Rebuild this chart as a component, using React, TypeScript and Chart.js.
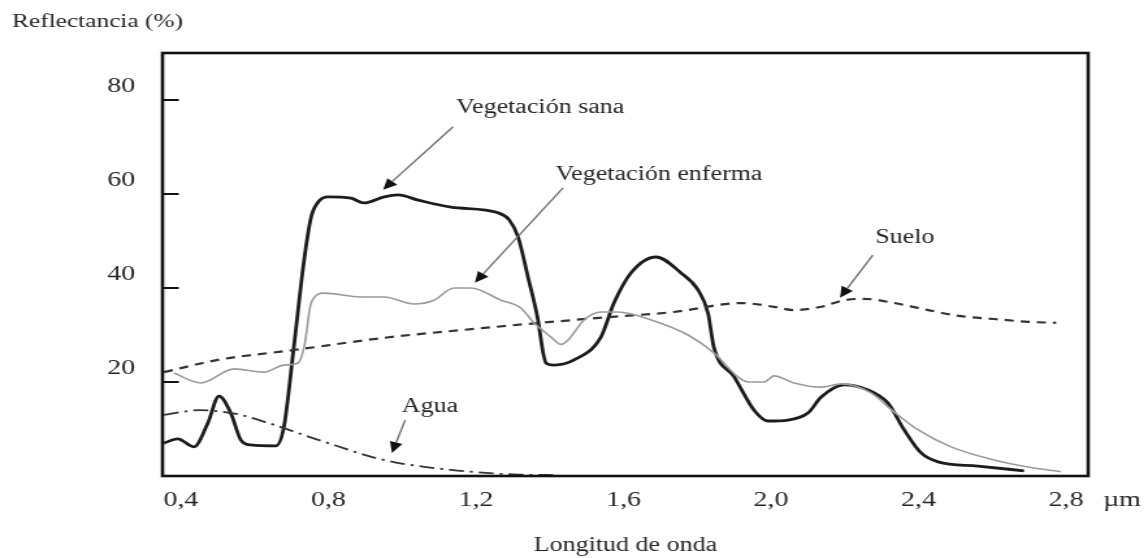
import React, { useEffect, useRef } from 'react';
import { Chart, registerables } from 'chart.js';

Chart.register(...registerables);

// ---- data (wavelength in µm, reflectance in %) ----
const sanaX = [0.354, 0.391, 0.435, 0.473, 0.503, 0.535, 0.562, 0.589, 0.657, 0.679, 0.706, 0.734, 0.753, 0.772, 0.799, 0.861, 0.896, 0.951, 0.989, 1.043, 1.132, 1.260, 1.290, 1.314, 1.341, 1.368, 1.382, 1.390, 1.412, 1.466, 1.539, 1.574, 1.620, 1.688, 1.756, 1.802, 1.829, 1.845, 1.900, 1.954, 1.992, 2.046, 2.100, 2.136, 2.198, 2.263, 2.317, 2.361, 2.407, 2.453, 2.561, 2.686];
const sanaY = [7.0, 7.9, 6.2, 11.3, 17.0, 13.4, 7.7, 6.6, 6.4, 10.4, 27.4, 46.0, 55.1, 58.3, 59.4, 59.1, 58.1, 59.4, 59.8, 58.7, 57.2, 56.0, 54.5, 50.9, 42.3, 33.2, 26.2, 24.0, 23.6, 24.7, 29.6, 36.8, 43.2, 46.6, 43.2, 39.6, 34.7, 27.4, 21.1, 14.0, 11.7, 11.9, 13.4, 16.8, 19.4, 18.3, 15.5, 9.8, 4.9, 3.0, 2.1, 1.1];

const enfermaX = [0.381, 0.454, 0.544, 0.625, 0.679, 0.717, 0.734, 0.753, 0.788, 0.888, 0.951, 1.032, 1.086, 1.140, 1.186, 1.268, 1.322, 1.357, 1.403, 1.430, 1.449, 1.493, 1.539, 1.585, 1.675, 1.775, 1.845, 1.910, 1.938, 1.981, 2.008, 2.062, 2.136, 2.190, 2.271, 2.334, 2.399, 2.488, 2.605, 2.697, 2.786];
const enfermaY = [21.9, 19.8, 22.8, 22.1, 23.6, 24.0, 27.4, 36.8, 38.9, 38.1, 38.1, 36.6, 37.4, 40.0, 40.0, 37.4, 35.7, 32.6, 29.6, 28.0, 28.9, 33.2, 34.9, 34.9, 33.2, 30.0, 26.2, 21.1, 20.0, 20.0, 21.3, 19.8, 18.9, 19.6, 17.7, 13.6, 9.8, 6.2, 3.4, 1.9, 0.9];

const sueloX = [0.354, 0.500, 0.706, 0.951, 1.222, 1.376, 1.558, 1.737, 1.919, 2.008, 2.062, 2.136, 2.198, 2.252, 2.334, 2.426, 2.515, 2.605, 2.697, 2.773];
const sueloY = [22.1, 24.7, 26.8, 29.4, 31.5, 32.6, 33.8, 34.9, 36.8, 36.0, 35.3, 36.0, 37.4, 37.7, 36.8, 35.3, 34.0, 33.4, 32.8, 32.6];

const aguaX = [0.354, 0.450, 0.550, 0.636, 0.772, 0.951, 1.132, 1.314, 1.420];
const aguaY = [13.0, 14.0, 13.2, 11.3, 7.7, 3.4, 1.3, 0.3, 0.2];

const xTicks = [0.4, 0.8, 1.2, 1.6, 2.0, 2.4, 2.8];
const yTicks = [20, 40, 60, 80];

// annotations (data coordinates)
const annLabels = ['Vegetación sana', 'Vegetación enferma', 'Suelo', 'Agua'];
const annTextAt = [[1.374, 78.3], [1.696, 64.0], [2.363, 50.6], [1.075, 14.7]];
const annArrowFrom = [[1.138, 74.3], [1.436, 61.3], [2.276, 47.0], [1.008, 11.9]];
const annArrowTo = [[0.948, 60.9], [1.197, 41.1], [2.187, 37.9], [0.972, 4.9]];

const FONT = '"Liberation Serif", "Times New Roman", serif';
const TEXT = '#262626';
const PAGE_W = 1148;
const PAGE_H = 558;
const STRETCH = 1.3; // the reference is horizontally stretched
const CANVAS_W = Math.round(PAGE_W / STRETCH);

const pts = (xs: number[], ys: number[]) => xs.map((x, i) => ({ x, y: ys[i] }));

function drawArrow(ctx: CanvasRenderingContext2D, x1: number, y1: number, x2: number, y2: number) {
  const ang = Math.atan2(y2 - y1, x2 - x1);
  const hl = 11;
  const hw = 5;
  const bx = x2 - hl * Math.cos(ang);
  const by = y2 - hl * Math.sin(ang);
  ctx.strokeStyle = '#6a6a6a';
  ctx.lineWidth = 1.3;
  ctx.setLineDash([]);
  ctx.beginPath();
  ctx.moveTo(x1, y1);
  ctx.lineTo(bx, by);
  ctx.stroke();
  ctx.fillStyle = '#111';
  ctx.beginPath();
  ctx.moveTo(x2, y2);
  ctx.lineTo(bx + hw * Math.sin(ang), by - hw * Math.cos(ang));
  ctx.lineTo(bx - hw * Math.sin(ang), by + hw * Math.cos(ang));
  ctx.closePath();
  ctx.fill();
}

const decorPlugin = {
  id: 'decor',
  afterDraw(chart: any) {
    const { ctx, chartArea: a, scales } = chart;
    const xs = scales.x;
    const ys = scales.y;
    ctx.save();
    ctx.setLineDash([]);
    // inner tick marks on y axis
    ctx.strokeStyle = '#111';
    ctx.lineWidth = 2;
    yTicks.forEach((v) => {
      const py = ys.getPixelForValue(v);
      ctx.beginPath();
      ctx.moveTo(a.left, py);
      ctx.lineTo(a.left + 12.5, py);
      ctx.stroke();
    });
    // frame
    ctx.lineWidth = 2.6;
    ctx.strokeStyle = '#111';
    ctx.strokeRect(a.left, a.top, a.right - a.left, a.bottom - a.top);
    // arrows
    annLabels.forEach((_, i) => {
      drawArrow(
        ctx,
        xs.getPixelForValue(annArrowFrom[i][0]),
        ys.getPixelForValue(annArrowFrom[i][1]),
        xs.getPixelForValue(annArrowTo[i][0]),
        ys.getPixelForValue(annArrowTo[i][1])
      );
    });
    // annotation texts
    ctx.fillStyle = TEXT;
    ctx.font = `20px ${FONT}`;
    ctx.textAlign = 'center';
    ctx.textBaseline = 'middle';
    annLabels.forEach((t, i) => {
      ctx.fillText(t, xs.getPixelForValue(annTextAt[i][0]), ys.getPixelForValue(annTextAt[i][1]));
    });
    // y title
    ctx.textAlign = 'left';
    ctx.font = `19.5px ${FONT}`;
    ctx.fillText('Reflectancia (%)', 12 / STRETCH, 22);
    // unit after last x tick
    ctx.font = `21.5px ${FONT}`;
    ctx.textAlign = 'center';
    ctx.fillText('µm', xs.getPixelForValue(xTicks[xTicks.length - 1]) + 43, a.bottom + 24);
    ctx.restore();
  },
};

export default function App() {
  const ref = useRef<HTMLCanvasElement>(null);

  useEffect(() => {
    if (!ref.current) return;
    const chart = new Chart(ref.current, {
      type: 'line',
      data: {
        datasets: [
          {
            label: 'Vegetación enferma',
            data: pts(enfermaX, enfermaY),
            borderColor: '#9a9a9a',
            borderWidth: 1.6,
            cubicInterpolationMode: 'monotone',
            pointRadius: 0,
            fill: false,
          },
          {
            label: 'Suelo',
            data: pts(sueloX, sueloY),
            borderColor: '#333',
            borderWidth: 2.2,
            borderDash: [7, 5.4],
            cubicInterpolationMode: 'monotone',
            pointRadius: 0,
            fill: false,
          },
          {
            label: 'Agua',
            data: pts(aguaX, aguaY),
            borderColor: '#333',
            borderWidth: 1.8,
            borderDash: [11.5, 4.6, 2.3, 4.6],
            cubicInterpolationMode: 'monotone',
            pointRadius: 0,
            fill: false,
          },
          {
            label: 'Vegetación sana',
            data: pts(sanaX, sanaY),
            borderColor: '#1c1c1c',
            borderWidth: 2.8,
            cubicInterpolationMode: 'monotone',
            pointRadius: 0,
            fill: false,
          },
        ],
      },
      options: {
        responsive: false,
        animation: false,
        events: [],
        layout: { padding: { top: 53, right: 46, left: 0, bottom: 0 } },
        plugins: { legend: { display: false }, tooltip: { enabled: false } },
        scales: {
          x: {
            type: 'linear',
            min: 0.35,
            max: 2.86,
            grid: { display: false, drawTicks: false },
            border: { display: false },
            afterBuildTicks: (s: any) => {
              s.ticks = xTicks.map((v) => ({ value: v }));
            },
            afterFit: (s: any) => {
              s.height = 82;
            },
            ticks: {
              padding: 11,
              color: TEXT,
              maxRotation: 0,
              autoSkip: false,
              font: { family: FONT, size: 21.5 },
              callback: (v: any) => Number(v).toFixed(1).replace('.', ','),
            },
            title: {
              display: true,
              text: 'Longitud de onda',
              color: TEXT,
              font: { family: FONT, size: 20 },
              padding: { top: 0, bottom: 0 },
            },
          },
          y: {
            type: 'linear',
            min: 0,
            max: 90,
            grid: { display: false, drawTicks: false },
            border: { display: false },
            afterBuildTicks: (s: any) => {
              s.ticks = yTicks.map((v) => ({ value: v }));
            },
            afterFit: (s: any) => {
              s.width = 125;
            },
            ticks: {
              padding: 21,
              labelOffset: -14,
              color: TEXT,
              font: { family: FONT, size: 21.5 },
              callback: (v: any) => String(v),
            },
          },
        },
      },
      plugins: [decorPlugin],
    } as any);
    return () => chart.destroy();
  }, []);

  return (
    <div style={{ position: 'fixed', left: 0, top: 0, width: PAGE_W, height: PAGE_H, background: '#fff' }}>
      <canvas
        ref={ref}
        width={CANVAS_W}
        height={PAGE_H}
        style={{ width: `${PAGE_W}px`, height: `${PAGE_H}px`, display: 'block' }}
      />
    </div>
  );
}
